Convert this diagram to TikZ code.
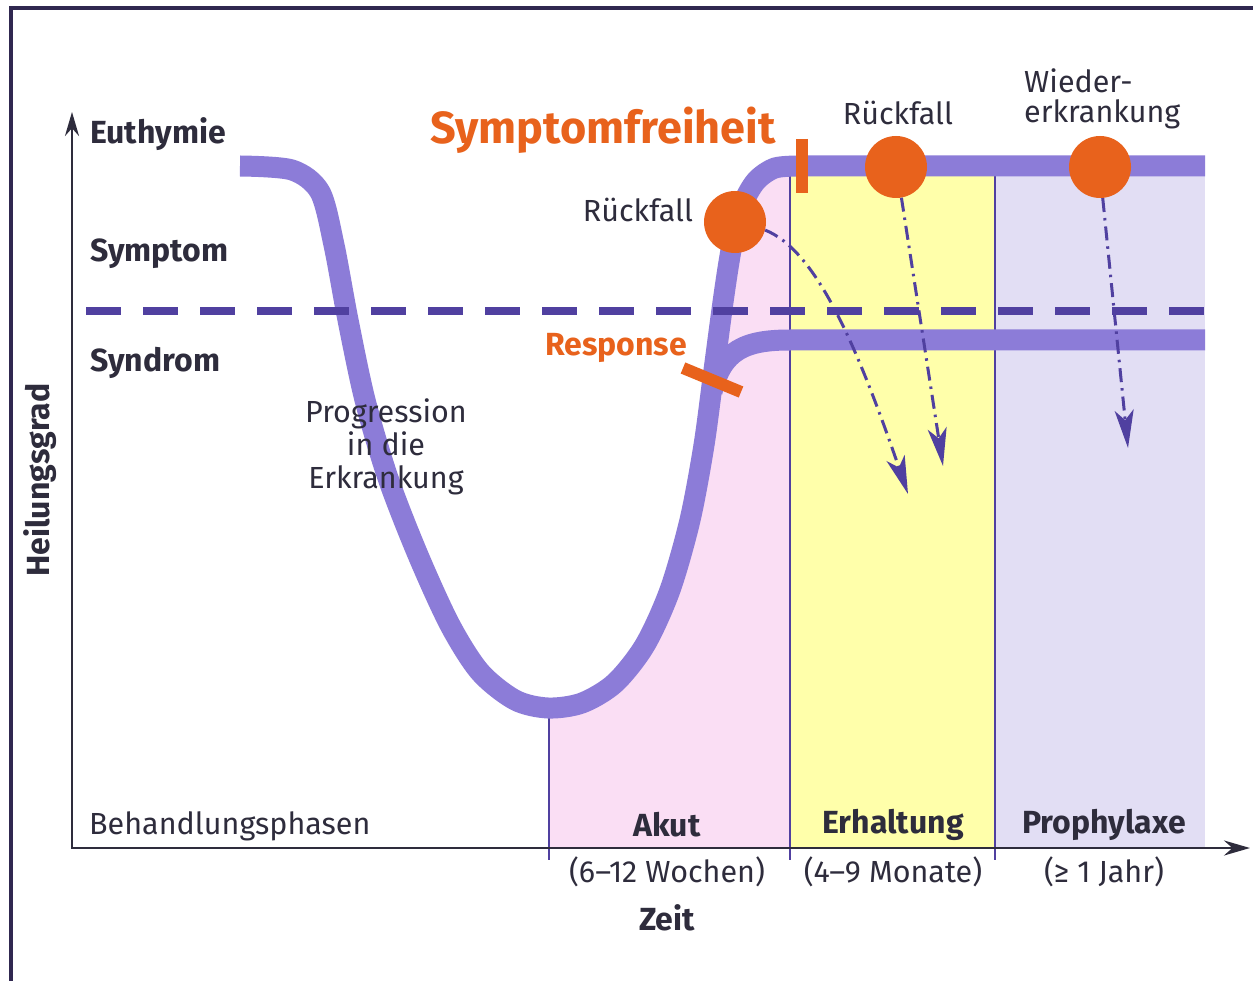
\documentclass[tikz,border=0pt]{standalone}
\usepackage{fontspec}
\setmainfont{Fira Sans}
\usetikzlibrary{arrows.meta}
\definecolor{curvelila}{RGB}{140,124,216}
\definecolor{dashlila}{RGB}{80,64,160}
\definecolor{akutpink}{RGB}{250,222,244}
\definecolor{erhgelb}{RGB}{255,255,170}
\definecolor{prolila}{RGB}{226,222,244}
\definecolor{rueckorange}{RGB}{232,98,28}
\definecolor{textdark}{RGB}{46,44,60}
\definecolor{framedark}{RGB}{48,40,80}

\begin{document}
\begin{tikzpicture}[x=1pt,y=-1pt,
  mainline/.style={curvelila,line width=21pt},
  phaseline/.style={dashlila,line width=1.6pt},
  lbl/.style={text=textdark,font=\fontsize{32}{34}\selectfont\bfseries,inner sep=0pt},
  txt/.style={text=textdark,font=\fontsize{30.5}{33}\selectfont,inner sep=0pt},
  rdot/.style={circle,fill=rueckorange,minimum size=62pt,inner sep=0pt},
  orangebar/.style={rueckorange,line width=12pt},
  relapse/.style={dashlila,line width=3pt,dash pattern=on 14pt off 6pt on 2.5pt off 6pt,
    -{Stealth[length=38pt,width=19pt,inset=10pt]}}]
  \useasboundingbox[fill=white] (0,0) rectangle (1253,981);
  \draw[framedark,line width=3.5pt] (11,981) -- (11,8) -- (1253,8);
  % phases
  \fill[akutpink] plot[smooth] coordinates {(548,708) (582,703) (615,683) (645,645)
    (670,590) (690,520) (704,445) (714,370) (724,295) (732,245) (742,206) (756,181)
    (775,168) (800,166)} -- (800,166) -- (790,166) -- (790,848) -- (549,848) -- cycle;
  \fill[erhgelb] (790,166) rectangle (995,848);
  \fill[prolila] (995,166) rectangle (1205,848);
  \foreach \x/\ya in {549/708,790/166,995/166} { \draw[phaseline](\x,\ya)--(\x,860); }
  % course
  \draw[mainline] plot[smooth] coordinates {(240,166) (292,170) (320,192) (334,245)
    (348,320) (365,400) (388,478) (418,555) (450,625) (480,672) (515,700) (548,708)
    (582,703) (615,683) (645,645) (670,590) (690,520) (704,445) (714,370) (724,295)
    (732,245) (742,206) (756,181) (775,168) (800,166)} -- (1205,166);
  \draw[mainline] (712,392) .. controls (722,350) and (745,340) .. (790,340) -- (1205,340);
  \draw[dashlila,line width=8pt,dash pattern=on 35pt off 22pt] (86,311) -- (1205,311);
  \node[txt,align=center] (progr) at (386,447) {Progression\\in die\\Erkrankung};
  % axes
  \draw[textdark,line width=2.5pt,{Stealth[length=24pt,width=14pt]}-{Stealth[length=26pt,width=15pt]}]
    (72,112) -- (72,848) -- (1250,848);
  \node[lbl,anchor=west] (euth) at (90,134) {Euthymie};
  \node[lbl,anchor=west] (sympt) at (90,254) {Symptom};
  \node[lbl,anchor=west] (syndr) at (90,363) {Syndrom};
  \node[lbl,rotate=90] (heil) at (40,480) {Heilungsgrad};
  \node[txt,anchor=west] (behand) at (89,826) {Behandlungsphasen};
  \foreach \x/\name/\dur/\id in {667/Akut/(6–12 Wochen)/akut,893/Erhaltung/(4–9 Monate)/erh,
    1104/Prophylaxe/(≥ 1 Jahr)/pro} {
    \node[lbl] (phase\id) at (\x,825) {\name};
    \node[txt] (dur\id) at (\x,872) {\dur};
  }
  \node[lbl] (zeit) at (667,918) {Zeit};
  % marks
  \draw[orangebar] (802,139) -- (802,193);
  \draw[orangebar] (683,368) -- (741,392);
  \node[lbl,text=rueckorange,font=\fontsize{45}{48}\selectfont\bfseries] (frei) at (603,130) {Symptomfreiheit};
  \node[lbl,text=rueckorange] (resp) at (616,348) {Response};
  \node[rdot] (c1) at (735,222) {};
  \node[rdot] (c2) at (896,167) {};
  \node[rdot] (c3) at (1100,167) {};
  \node[txt] (rf1) at (638,210) {Rückfall};
  \node[txt] (rf2) at (898,113) {Rückfall};
  \node[txt,align=left,anchor=west,font=\fontsize{30.5}{30}\selectfont] (wieder) at (1024,99) {Wieder-\\erkrankung};
  \coordinate (e1) at (908,494);
  \coordinate (e2) at (943,466);
  \coordinate (e3) at (1128,448);
  \draw[relapse] (c1.-15) .. controls (815,250) and (855,340) .. (e1);
  \draw[relapse] (c2.-80) -- (e2);
  \draw[relapse] (c3.-85) -- (e3);
\end{tikzpicture}
\end{document}
